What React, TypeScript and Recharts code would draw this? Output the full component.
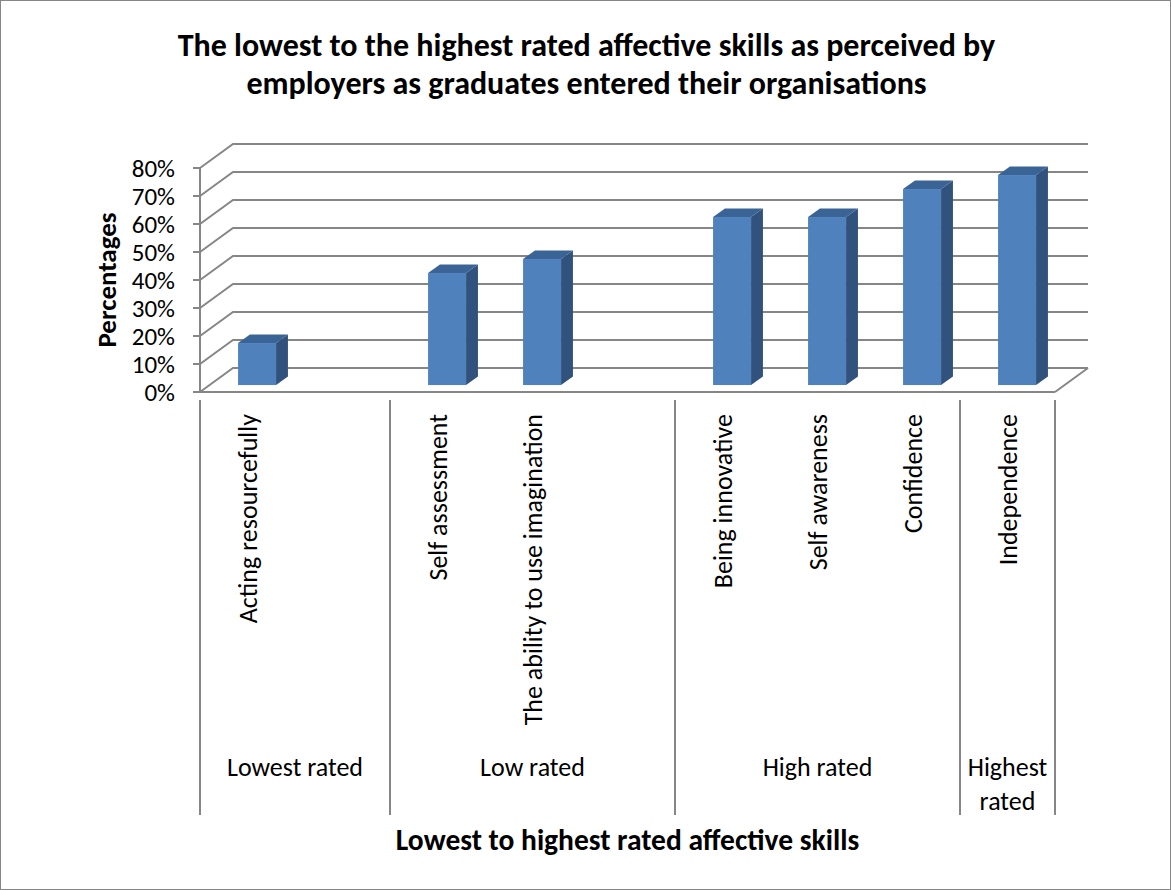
import { BarChart, Bar, XAxis, YAxis, CartesianGrid } from 'recharts';

const skills = [
  'Acting resourcefully',
  '',
  'Self assessment',
  'The ability to use imagination',
  '',
  'Being innovative',
  'Self awareness',
  'Confidence',
  'Independence',
];
const ratings = [0.15, null, 0.4, 0.45, null, 0.6, 0.6, 0.7, 0.75];
const groupNames = ['Lowest rated', 'Low rated', 'High rated', 'Highest rated'];
const groupSizes = [2, 3, 3, 1];
const percentTicks = [0, 0.1, 0.2, 0.3, 0.4, 0.5, 0.6, 0.7, 0.8];

const W = 1171;
const H = 890;
const MARGIN = { top: 168, right: 116, bottom: 0, left: 0 };
const Y_AXIS_W = 200;
const X_AXIS_H = 498;
const PLOT_LEFT = MARGIN.left + Y_AXIS_W;
const PLOT_BOTTOM = H - MARGIN.bottom - X_AXIS_H;
const SLOT = (W - PLOT_LEFT - MARGIN.right) / skills.length;

// 3d look: floor depth and where the columns sit inside it
const WALL_DX = 33;
const WALL_DY = 24;
const COL_FRONT = 0.29;
const COL_DEPTH = 0.36;

const FONT = 'Carlito, Calibri, Lato, sans-serif';
const FS = 26;
const GRID = '#868686';
const FRONT = '#4F81BD';
const TOP = '#3B6496';
const SIDE = '#30527D';

// group index of each slot, and whether the slot starts a group
const groupOf: number[] = [];
const groupStart: boolean[] = [];
groupSizes.forEach((n, g) => {
  for (let i = 0; i < n; i++) {
    groupOf.push(g);
    groupStart.push(i === 0);
  }
});

const data = skills.map((name, i) => ({
  name: name || ` ${i}`,
  label: name,
  value: ratings[i],
}));

// crude word wrap: roughly half an em per character
function wrap(text: string, width: number) {
  if (text.length * FS * 0.5 <= width) return [text];
  return text.split(' ');
}

function Column(props: any) {
  const { x, y, width, height } = props;
  if (!height || height <= 0) return null;
  const fx = x + WALL_DX * COL_FRONT;
  const fy = y - WALL_DY * COL_FRONT;
  const dx = WALL_DX * COL_DEPTH;
  const dy = WALL_DY * COL_DEPTH;
  return (
    <g>
      <rect x={fx} y={fy} width={width} height={height} fill={FRONT} />
      <polygon
        points={`${fx + width},${fy} ${fx + width + dx},${fy - dy} ${fx + width + dx},${fy + height - dy} ${fx + width},${fy + height}`}
        fill={SIDE}
      />
      <polygon
        points={`${fx},${fy} ${fx + dx},${fy - dy} ${fx + width + dx},${fy - dy} ${fx + width},${fy}`}
        fill={TOP}
      />
    </g>
  );
}

function WallLine(props: any) {
  const { x1, x2, y1 } = props;
  let d = `M${x1},${y1} L${x1 + WALL_DX},${y1 - WALL_DY} L${x2 + WALL_DX},${y1 - WALL_DY}`;
  if (Math.abs(y1 - PLOT_BOTTOM) < 1) {
    d += ` M${x2},${y1} L${x2 + WALL_DX},${y1 - WALL_DY}`;
  }
  return <path key={props.key} d={d} stroke={GRID} strokeWidth={2} fill="none" />;
}

function SkillTick(props: any) {
  const { x, y, index } = props;
  const half = SLOT / 2;
  const g = groupOf[index];
  const label = data[index]?.label ?? '';
  const bottom = 815;
  const lines = wrap(groupNames[g], groupSizes[g] * SLOT - 8);
  const gx = x - half + groupSizes[g] * half;
  return (
    <g>
      {label && (
        <text
          x={x}
          y={y + 14}
          transform={`rotate(-90, ${x}, ${y + 14})`}
          textAnchor="end"
          dominantBaseline="central"
          fontFamily={FONT}
          fontSize={FS}
          fill="#000"
        >
          {label}
        </text>
      )}
      {groupStart[index] && (
        <>
          <line x1={x - half} y1={y} x2={x - half} y2={bottom} stroke={GRID} strokeWidth={2} />
          <text x={gx} y={y + 376} textAnchor="middle" fontFamily={FONT} fontSize={FS} fill="#000">
            {lines.map((t, i) => (
              <tspan key={i} x={gx} dy={i === 0 ? 0 : 34}>
                {t}
              </tspan>
            ))}
          </text>
        </>
      )}
      {index === skills.length - 1 && (
        <line x1={x + half} y1={y} x2={x + half} y2={bottom} stroke={GRID} strokeWidth={2} />
      )}
    </g>
  );
}

export default function App() {
  return (
    <div
      style={{
        position: 'absolute',
        left: 0,
        top: 0,
        width: W,
        height: H,
        background: '#fff',
        border: '1.5px solid #868686',
        boxSizing: 'border-box',
      }}
    >
      <div
        style={{
          position: 'absolute',
          left: 0,
          top: 26,
          width: W,
          textAlign: 'center',
          fontFamily: FONT,
          fontWeight: 'bold',
          fontSize: 32,
          lineHeight: '38px',
          color: '#000',
        }}
      >
        The lowest to the highest rated affective skills as perceived by
        <br />
        employers as graduates entered their organisations
      </div>
      <div style={{ position: 'absolute', left: -1.5, top: -1.5 }}>
        <BarChart width={W} height={H} data={data} margin={MARGIN} barCategoryGap="30%">
          <CartesianGrid vertical={false} horizontal={WallLine} />
          <YAxis
            width={Y_AXIS_W}
            domain={[0, 0.8]}
            ticks={percentTicks}
            interval={0}
            tickFormatter={(v: number) => `${Math.round(v * 100)}%`}
            tickSize={7}
            tickMargin={18}
            axisLine={{ stroke: GRID, strokeWidth: 2 }}
            tickLine={{ stroke: GRID, strokeWidth: 2 }}
            tick={{ fill: '#000', fontSize: 25, fontFamily: FONT }}
            label={{
              value: 'Percentages',
              angle: -90,
              position: 'insideLeft',
              offset: 106,
              style: { fontFamily: FONT, fontSize: 27, fontWeight: 'bold', fill: '#000', textAnchor: 'middle' },
            }}
          />
          <XAxis
            dataKey="name"
            height={X_AXIS_H}
            interval={0}
            tickLine={false}
            axisLine={{ stroke: GRID, strokeWidth: 2 }}
            tick={<SkillTick />}
            label={{
              value: 'Lowest to highest rated affective skills',
              position: 'insideBottom',
              offset: 40,
              style: { fontFamily: FONT, fontSize: 29.5, fontWeight: 'bold', fill: '#000' },
            }}
          />
          <Bar dataKey="value" shape={<Column />} isAnimationActive={false} />
        </BarChart>
      </div>
    </div>
  );
}
